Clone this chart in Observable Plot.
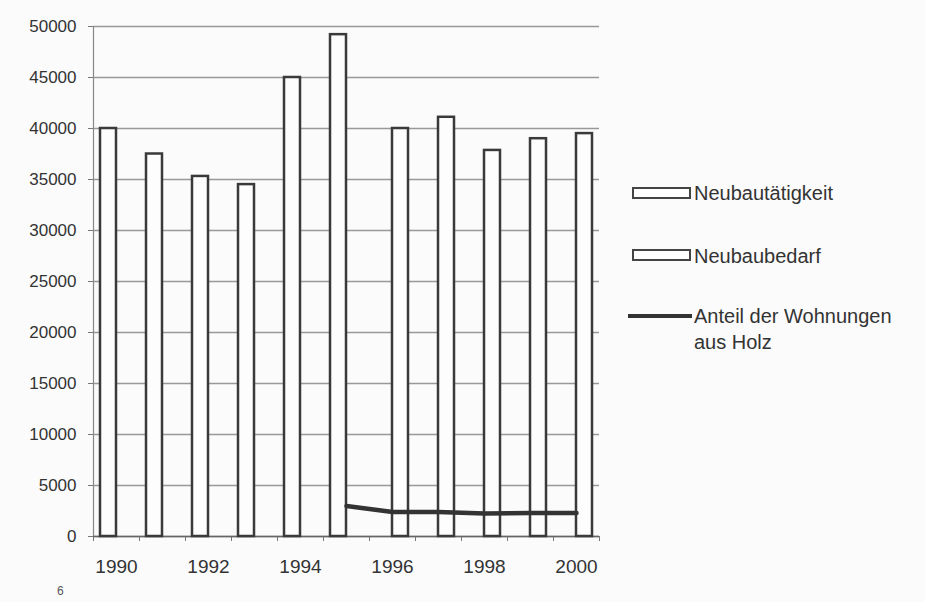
<!DOCTYPE html>
<html><head><meta charset="utf-8">
<script src="https://cdn.jsdelivr.net/npm/d3@7"></script>
<script src="https://cdn.jsdelivr.net/npm/@observablehq/plot@0.6"></script>
<style>
body{margin:0;background:#fbfbfb;font-family:"Liberation Sans",Arial,sans-serif;color:#333;}
#wrap{position:relative;width:925px;height:602px;overflow:hidden;}
#chart{position:absolute;left:0;top:0;}
.item{position:absolute;font-size:20px;line-height:26px;color:#333;white-space:nowrap;}
.box{position:absolute;width:55px;height:8px;border:2.5px solid #444;background:#fff;}
.ln{position:absolute;width:64px;height:4px;background:#333;}
#pg{position:absolute;left:57px;top:584px;font-size:12px;line-height:14px;color:#555;}
</style></head>
<body><div id="wrap"><div id="chart"></div>
<div class="box" style="left:632px;top:187px"></div><div class="item" style="left:694px;top:180px">Neubautätigkeit</div>
<div class="box" style="left:632px;top:249px"></div><div class="item" style="left:694px;top:243px">Neubaubedarf</div>
<div class="ln" style="left:628px;top:314px"></div><div class="item" style="left:694px;top:303px">Anteil der Wohnungen<br>aus Holz</div>
<div id="pg">6</div>
</div>
<script>
const years = [1990,1991,1992,1993,1994,1995,1996,1997,1998,1999,2000];
const tickYears = [1990,1992,1994,1996,1998,2000];
const yTicks = [0,5000,10000,15000,20000,25000,30000,35000,40000,45000,50000];
const neubautaetigkeit = [40000,37500,35300,34500,45000,49200,null,null,null,null,null];
const neubaubedarf = [null,null,null,null,null,null,40000,41100,37850,39000,39500];
const anteilHolz = [null,null,null,null,null,3000,2400,2400,2250,2300,2300];

const toRows = arr => years.map((year,i)=>({year, value: arr[i]})).filter(d=>d.value!=null);

const chart = Plot.plot({
  width: 610, height: 602,
  marginLeft: 93, marginRight: 11, marginTop: 26, marginBottom: 66,
  style: {background:"transparent", fontFamily:"'Liberation Sans', Arial, sans-serif", fontSize:"17px", color:"#333"},
  x: {type:"band", domain: years, padding: 0, label: null},
  y: {domain:[0,50000], label: null},
  marks: [
    Plot.gridY(yTicks, {stroke:"#999", strokeOpacity:1, strokeWidth:1.5}),
    Plot.ruleX(years, {x: d=>d, dx: -23, stroke:"#777", strokeWidth:1, insetTop: 510, insetBottom: -5}),
    Plot.ruleX([2000], {x: d=>d, dx: 23, stroke:"#777", strokeWidth:1, insetTop: 510, insetBottom: -5}),
    Plot.ruleX([1990], {x: d=>d, dx: -23, stroke:"#888", strokeWidth:1.2}),
    Plot.ruleY([0], {stroke:"#666", strokeWidth:1.5}),
    Plot.barY(toRows(neubautaetigkeit), {x:"year", y:"value", insetLeft:7, insetRight:23, fill:"#fdfdfd", stroke:"#3a3a3a", strokeWidth:2.5}),
    Plot.barY(toRows(neubaubedarf), {x:"year", y:"value", insetLeft:23, insetRight:7, fill:"#fdfdfd", stroke:"#3a3a3a", strokeWidth:2.5}),
    Plot.line(toRows(anteilHolz), {x:"year", y:"value", stroke:"#333", strokeWidth:4.5}),
    Plot.axisY(yTicks, {tickSize:5, tickPadding:12, fontSize:17, stroke:"#777", fill:"#333", tickFormat: d=>String(d)}),
    Plot.axisX(tickYears, {tickSize:0, tickPadding:23, fontSize:19, fill:"#333", tickFormat: d=>String(d)})
  ]
});
document.getElementById("chart").appendChild(chart);
</script>
</body></html>
